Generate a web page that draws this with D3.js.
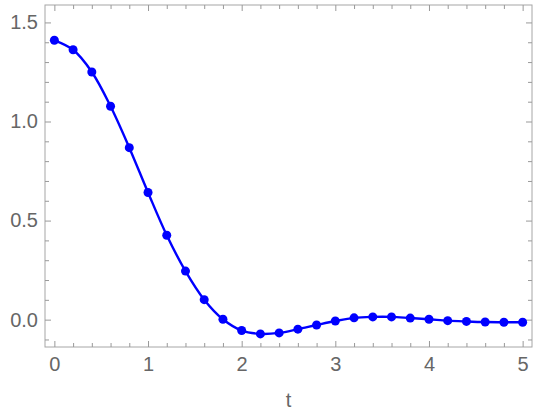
<!DOCTYPE html>
<html>
<head>
<meta charset="utf-8">
<script src="https://cdn.jsdelivr.net/npm/d3@7"></script>
<style>
  body { margin: 0; background: #fff; }
  svg { display: block; }
  .tick text { font-family: "Liberation Sans", Arial, sans-serif; font-size: 20px; fill: #666; }
  .domain { display: none; }
  .tick line { stroke: #999; stroke-width: 1; }
</style>
</head>
<body>
<script>
// sample times and values
const tValues = [0, 0.2, 0.4, 0.6, 0.8, 1.0, 1.2, 1.4, 1.6, 1.8, 2.0, 2.2, 2.4,
                 2.6, 2.8, 3.0, 3.2, 3.4, 3.6, 3.8, 4.0, 4.2, 4.4, 4.6, 4.8, 5.0];
const yValues = [1.41, 1.362, 1.25, 1.077, 0.868, 0.642, 0.426, 0.245, 0.101, 0.002,
                 -0.055, -0.072, -0.067, -0.048, -0.027, -0.007, 0.009, 0.014, 0.014,
                 0.008, 0.002, -0.005, -0.009, -0.012, -0.013, -0.013];
const xTicks = [0, 1, 2, 3, 4, 5];
const yTicks = [0, 0.5, 1.0, 1.5];
const xMinor = d3.range(0, 5.01, 0.2).filter(v => Math.abs(v - Math.round(v)) > 1e-6);
const yMinor = [-0.1, 0.1, 0.2, 0.3, 0.4, 0.6, 0.7, 0.8, 0.9, 1.1, 1.2, 1.3, 1.4];

const width = 540, height = 414;
const mLeft = 45, mRight = 532, mTop = 5, mBottom = 347;

const svg = d3.select("body").append("svg")
  .attr("width", width)
  .attr("height", height);

const x = d3.scaleLinear().domain([-0.1, 5.1]).range([mLeft, mRight]);
const y = d3.scaleLinear().domain([-0.138, 1.588]).range([mBottom, mTop]);

// frame
svg.append("rect")
  .attr("x", mLeft).attr("y", mTop)
  .attr("width", mRight - mLeft).attr("height", mBottom - mTop)
  .attr("fill", "none").attr("stroke", "#a6a6a6").attr("stroke-width", 1);

// major ticks with labels
svg.append("g").attr("transform", `translate(0,${mBottom})`)
  .call(d3.axisBottom(x).tickValues(xTicks).tickSize(-6).tickPadding(10).tickFormat(d3.format("d")));
svg.append("g").attr("transform", `translate(${mLeft},0)`)
  .call(d3.axisLeft(y).tickValues(yTicks).tickSize(-6).tickPadding(7).tickFormat(d3.format(".1f")));

// mirrored ticks on top and right
svg.append("g").attr("transform", `translate(0,${mTop})`)
  .call(d3.axisTop(x).tickValues(xTicks).tickSize(-6).tickFormat(""));
svg.append("g").attr("transform", `translate(${mRight},0)`)
  .call(d3.axisRight(y).tickValues(yTicks).tickSize(-6).tickFormat(""));

// minor ticks
svg.append("g").attr("transform", `translate(0,${mBottom})`)
  .call(d3.axisBottom(x).tickValues(xMinor).tickSize(-4).tickFormat(""));
svg.append("g").attr("transform", `translate(0,${mTop})`)
  .call(d3.axisTop(x).tickValues(xMinor).tickSize(-4).tickFormat(""));
svg.append("g").attr("transform", `translate(${mLeft},0)`)
  .call(d3.axisLeft(y).tickValues(yMinor).tickSize(-4).tickFormat(""));
svg.append("g").attr("transform", `translate(${mRight},0)`)
  .call(d3.axisRight(y).tickValues(yMinor).tickSize(-4).tickFormat(""));

// axis label
svg.append("text")
  .attr("x", (mLeft + mRight) / 2).attr("y", 407)
  .attr("text-anchor", "middle")
  .style("font-family", "Liberation Sans, Arial, sans-serif")
  .style("font-size", "20px").style("fill", "#666")
  .text("t");

const data = tValues.map((t, i) => ({ t: t, v: yValues[i] }));

svg.append("path")
  .datum(data)
  .attr("fill", "none")
  .attr("stroke", "#0000ff")
  .attr("stroke-width", 2.4)
  .attr("d", d3.line().x(d => x(d.t)).y(d => y(d.v)).curve(d3.curveCatmullRom));

svg.append("g")
  .selectAll("circle")
  .data(data)
  .enter().append("circle")
  .attr("cx", d => x(d.t))
  .attr("cy", d => y(d.v))
  .attr("r", 4.5)
  .attr("fill", "#0000ff");
</script>
</body>
</html>
